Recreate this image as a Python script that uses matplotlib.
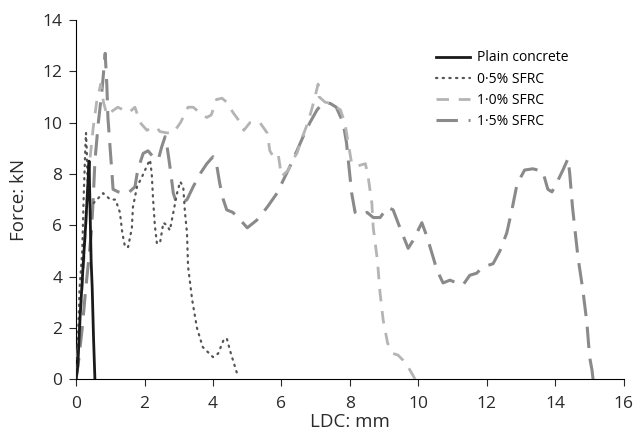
import numpy as np
import matplotlib.pyplot as plt

plt.rcParams['font.family'] = ['Open Sans', 'DejaVu Sans']

# Plain concrete
plain_x = [0, 0.05, 0.12, 0.2, 0.28, 0.34, 0.38, 0.41, 0.44, 0.47, 0.51, 0.55]
plain_y = [0, 0.5, 2.5, 4.3, 6.0, 7.5, 8.5, 6.5, 4.6, 3.6, 1.6, 0]

# 0.5% SFRC
f05_x = [0, 0.03, 0.1, 0.18, 0.22, 0.27, 0.29, 0.31, 0.33, 0.36, 0.5, 0.79, 1.0, 1.15,
         1.28, 1.35, 1.43, 1.52, 1.63, 1.66, 1.78, 1.93, 2.1, 2.16, 2.21, 2.25, 2.3,
         2.36, 2.45, 2.55, 2.65, 2.74, 2.84, 2.95, 3.04, 3.13, 3.18, 3.24, 3.27, 3.39,
         3.53, 3.7, 4.0, 4.15, 4.3, 4.4, 4.5, 4.7]
f05_y = [0, 0.5, 3.5, 5.0, 7.0, 9.0, 9.6, 9.0, 8.0, 7.0, 6.85, 7.25, 7.0, 7.0,
         6.5, 5.7, 5.15, 5.15, 5.9, 6.7, 7.5, 7.9, 8.4, 8.55, 8.0, 7.0, 6.0,
         5.3, 5.3, 6.1, 6.0, 5.8, 6.5, 7.25, 7.7, 7.5, 6.5, 5.7, 4.4, 3.1,
         2.0, 1.25, 0.86, 1.0, 1.5, 1.6, 1.1, 0.23]

# 1.0% SFRC
f10_x = [0, 0.1, 0.2, 0.3, 0.4, 0.5, 0.6, 0.72, 0.8, 0.9, 1.0, 1.22, 1.37, 1.55, 1.72,
         1.87, 2.07, 2.2, 2.36, 2.45, 2.65, 2.84, 3.05, 3.27, 3.42, 3.6, 3.82, 3.95,
         4.1, 4.26, 4.4, 4.58, 4.8, 4.9, 5.08, 5.37, 5.58, 5.66, 5.75, 5.9, 6.0, 6.2,
         6.3, 6.45, 6.6, 6.77, 6.9, 7.07, 7.1, 7.27, 7.42, 7.6, 7.72, 7.85, 7.95, 8.05,
         8.2, 8.45, 8.53, 8.64, 8.68, 8.8, 8.88, 8.97, 9.1, 9.26, 9.4, 9.55, 9.7, 9.84, 9.9]
f10_y = [0, 2.0, 4.0, 6.5, 8.5, 9.8, 10.8, 11.5, 10.8, 10.3, 10.4, 10.6, 10.5, 10.4, 10.6,
         10.0, 9.7, 9.8, 9.8, 9.65, 9.6, 9.6, 10.0, 10.6, 10.6, 10.4, 10.2, 10.3,
         10.9, 10.95, 10.8, 10.4, 10.0, 9.7, 10.0, 10.0, 9.6, 8.9, 8.7, 8.8, 7.9, 8.15,
         8.5, 8.8, 9.4, 10.0, 10.6, 11.5, 11.0, 10.8, 10.75, 10.6, 10.5, 10.0, 9.2, 8.4,
         8.3, 8.4, 7.9, 6.85, 5.9, 4.65, 3.35, 2.3, 1.4, 1.0, 0.94, 0.74, 0.47, 0.15, 0]

# 1.5% SFRC
f15_x = [0, 0.08, 0.18, 0.28, 0.38, 0.45, 0.5, 0.55, 0.65, 0.76, 0.85, 0.9, 0.93, 1.0,
         1.05, 1.08, 1.23, 1.37, 1.52, 1.72, 1.8, 1.96, 2.1, 2.25, 2.4, 2.5, 2.6, 2.66,
         2.74, 2.84, 2.9, 2.98, 3.09, 3.24, 3.42, 3.62, 3.82, 4.0, 4.1, 4.2, 4.3, 4.4,
         4.58, 4.8, 5.0, 5.28, 5.58, 5.87, 6.05, 6.25, 6.45, 6.63, 6.83, 7.04, 7.2, 7.42,
         7.6, 7.8, 7.9, 7.95, 8.05, 8.15, 8.24, 8.5, 8.68, 8.88, 9.1, 9.26, 9.46, 9.7,
         9.84, 10.1, 10.25, 10.43, 10.54, 10.72, 10.92, 11.12, 11.3, 11.5, 11.7, 11.88,
         12.18, 12.38, 12.58, 12.73, 12.88, 13.1, 13.34, 13.63, 13.78, 13.9, 14.04, 14.22,
         14.37, 14.42, 14.5, 14.66, 14.8, 14.92, 15.0, 15.07, 15.1]
f15_y = [0, 0.8, 2.0, 3.5, 4.8, 5.8, 7.0, 8.5, 10.0, 11.3, 12.7, 11.4, 10.2, 8.9,
         8.0, 7.4, 7.3, 7.25, 7.25, 7.5, 8.15, 8.8, 8.9, 8.67, 8.55, 9.05, 9.45, 9.05,
         8.3, 7.25, 7.0, 6.9, 6.85, 7.0, 7.5, 8.0, 8.4, 8.67, 8.4, 7.6, 7.0, 6.6,
         6.5, 6.2, 5.9, 6.2, 6.7, 7.25, 7.75, 8.3, 8.9, 9.45, 10.0, 10.5, 10.75, 10.75,
         10.6, 10.0, 9.2, 8.55, 7.25, 6.5, 6.4, 6.5, 6.3, 6.3, 6.7, 6.6, 5.9, 5.1,
         5.4, 6.1, 5.55, 4.75, 4.25, 3.75, 3.86, 3.75, 3.67, 4.05, 4.13, 4.37,
         4.5, 5.0, 5.7, 6.6, 7.6, 8.15, 8.2, 8.1, 7.4, 7.3, 7.65, 8.15,
         8.6, 8.0, 6.7, 4.75, 3.5, 2.2, 0.86, 0.35, 0]

fig = plt.figure(figsize=(6.34, 4.44), dpi=100)
ax = fig.add_axes([0.12, 0.146, 0.864, 0.809])

ax.plot(f15_x, f15_y, color='#8a8a8a', lw=2.2, dashes=(7, 3.5), label='1·5% SFRC', zorder=2)
ax.plot(f10_x, f10_y, color='#b4b4b4', lw=2.0, dashes=(4.5, 3.5), label='1·0% SFRC', zorder=3)
ax.plot(f05_x, f05_y, color='#555555', lw=1.6, dashes=(0.6, 2.4), dash_capstyle='round',
        label='0·5% SFRC', zorder=4)
ax.plot(plain_x, plain_y, color='#1a1a1a', lw=2.0, label='Plain concrete', zorder=5)

ax.set_xlim(0, 16)
ax.set_ylim(0, 14)
ax.set_xticks(np.arange(0, 17, 2))
ax.set_yticks(np.arange(0, 15, 2))
ax.spines['top'].set_visible(False)
ax.spines['right'].set_visible(False)
ax.tick_params(direction='out', length=5, labelsize=12.5, colors='#2a2a2a')
ax.tick_params(axis='x', pad=7)
ax.tick_params(axis='y', pad=5)
ax.set_xlabel('LDC: mm', fontsize=13.5, color='#2a2a2a', labelpad=1)
ax.set_ylabel('Force: kN', fontsize=13.5, color='#2a2a2a', labelpad=10)

h, l = ax.get_legend_handles_labels()
ax.legend(h[::-1], l[::-1], loc='upper left', bbox_to_anchor=(0.635, 0.95), frameon=False,
          fontsize=10, handlelength=2.4, handletextpad=0.5, labelspacing=0.45)

fig.savefig('out.png', dpi=100)
